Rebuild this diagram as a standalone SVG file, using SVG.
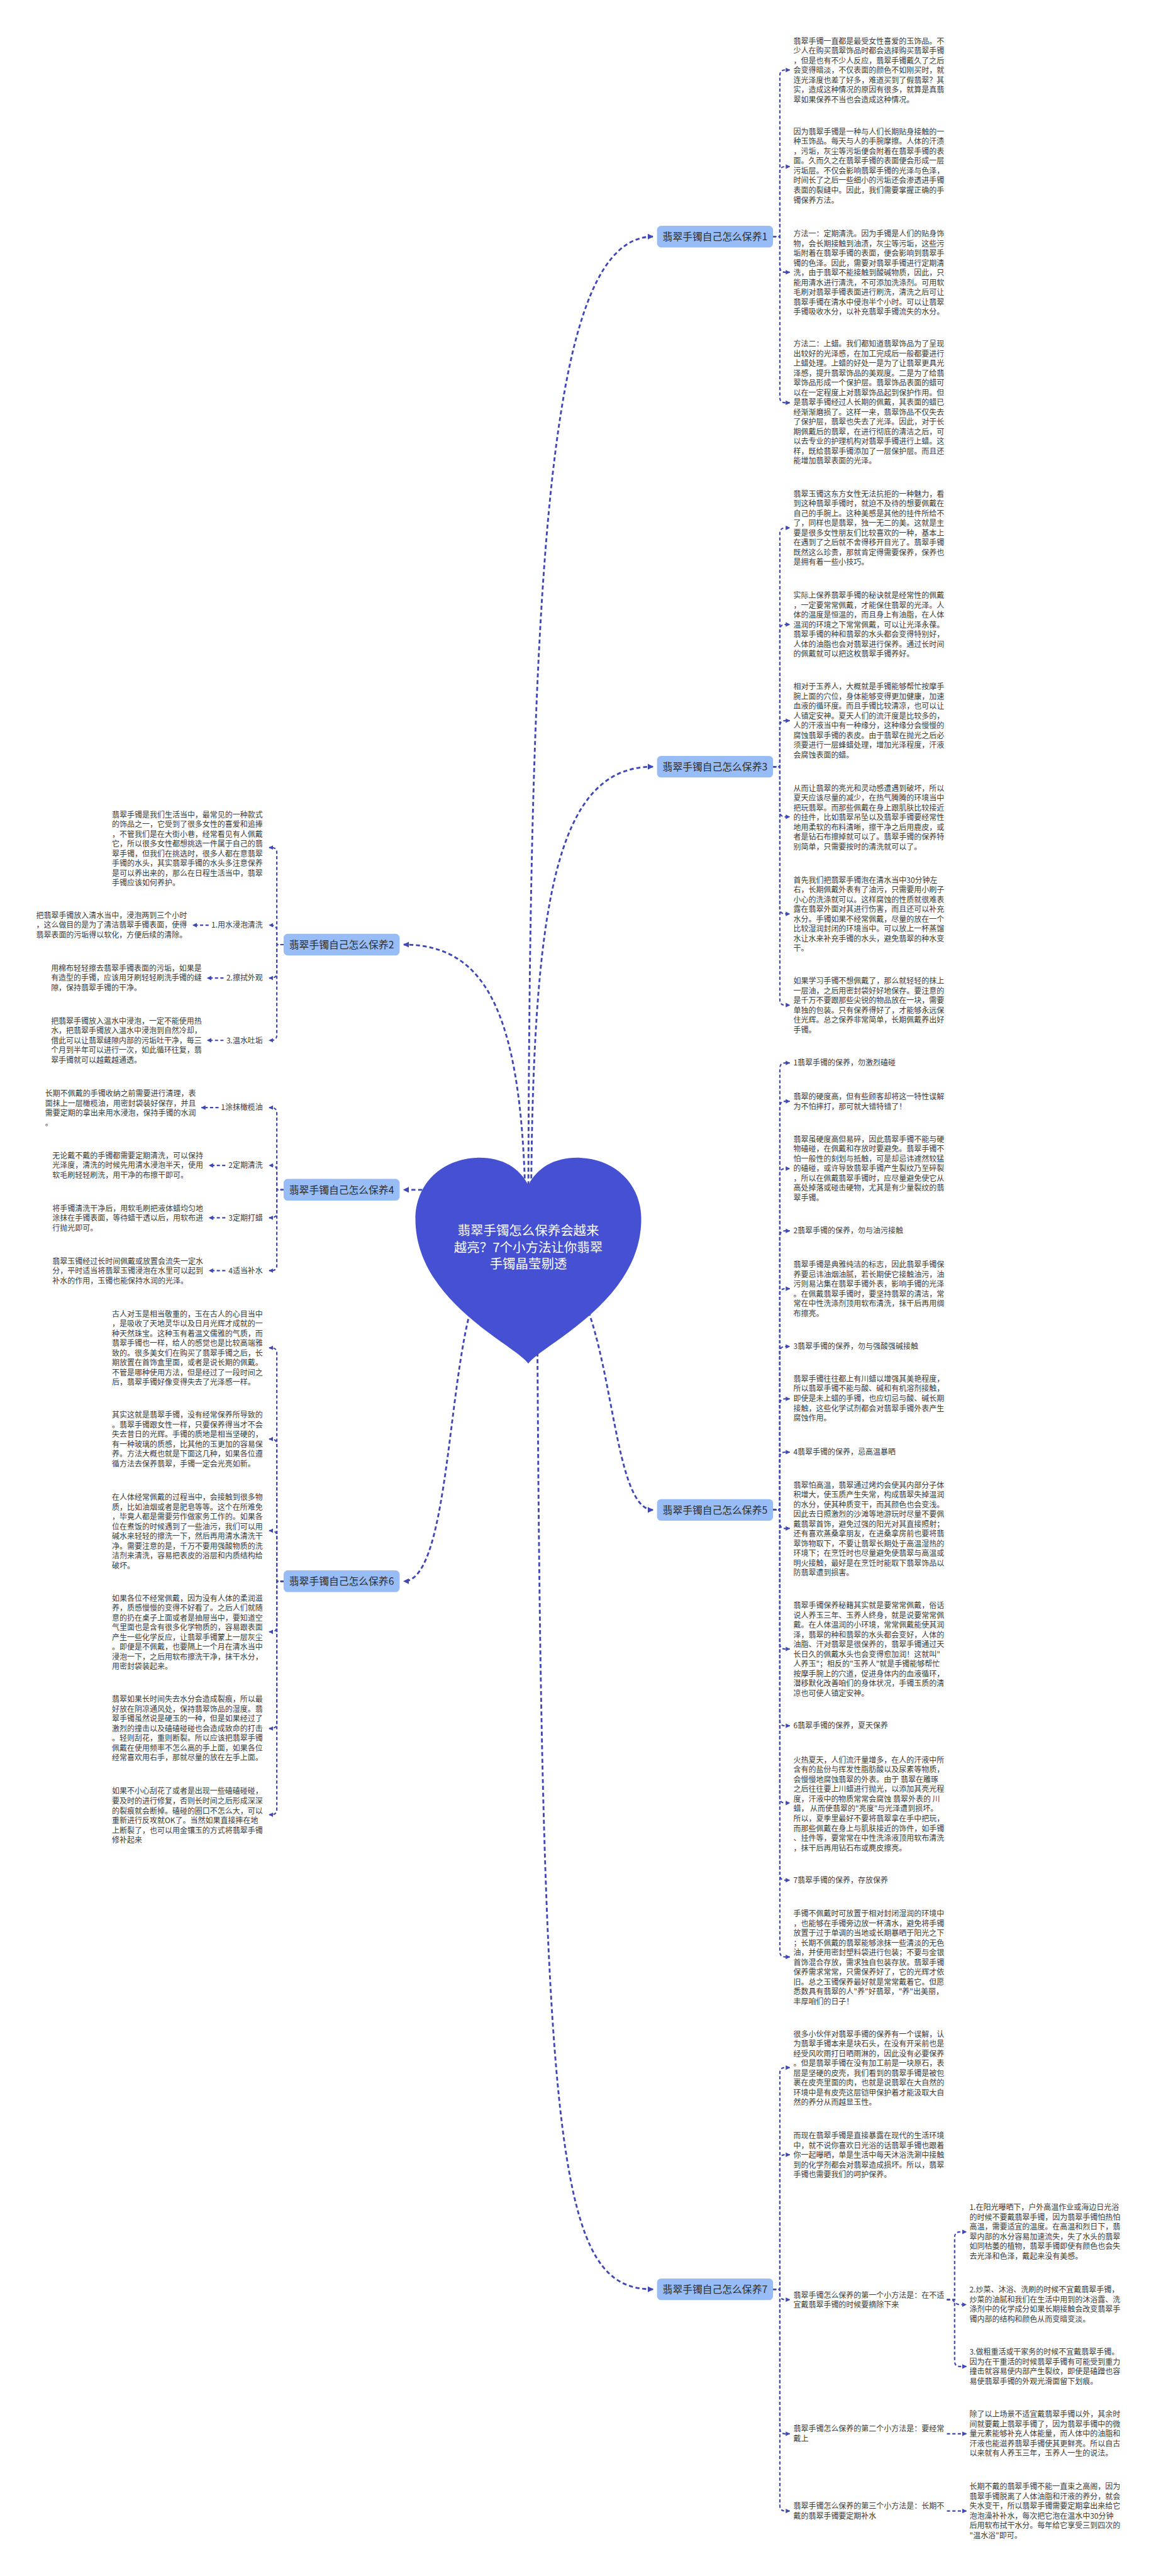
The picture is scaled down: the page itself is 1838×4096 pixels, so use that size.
<svg xmlns="http://www.w3.org/2000/svg" width="1838" height="4096" viewBox="0 0 1838 4096">
<style>
.t{font-family:"Noto Sans CJK SC","Noto Sans",sans-serif;font-size:16.7px;fill:#3a3a3a}
.lb{font-family:"Noto Sans CJK SC","Noto Sans",sans-serif;font-size:16.7px;fill:#3a3a3a;text-anchor:end}
.bx{fill:#98bcf6}
.bt{font-family:"Noto Sans CJK SC","Noto Sans",sans-serif;font-size:22px;fill:#2e2e2e;text-anchor:middle}
.ht{font-family:"Noto Sans CJK SC","Noto Sans",sans-serif;font-size:28.5px;fill:#ffffff;text-anchor:middle}
.c{fill:none;stroke:#3f48b8;stroke-width:3;stroke-dasharray:7 5;marker-end:url(#a)}
.m{fill:none;stroke:#3f48b8;stroke-width:4;stroke-dasharray:9 6;marker-end:url(#am)}
</style>
<defs>
<marker id="a" markerUnits="userSpaceOnUse" markerWidth="10" markerHeight="11" viewBox="0 0 10 10" refX="9" refY="5" orient="auto"><path d="M0,0 L10,5 L0,10 z" fill="#3f48b8"/></marker>
<marker id="am" markerUnits="userSpaceOnUse" markerWidth="13" markerHeight="13" viewBox="0 0 10 10" refX="9" refY="5" orient="auto"><path d="M0,0 L10,5 L0,10 z" fill="#3f48b8"/></marker>
</defs>
<rect width="1838" height="4096" fill="#ffffff"/>
<g transform="scale(0.71797)">
<g id="connectors">
<!-- root to branches -->
<path class="m" d="M1170,2700 C1172,1200 1220,524 1446,524"/>
<path class="m" d="M1176,2700 C1178,2000 1230,1698 1446,1698"/>
<path class="m" d="M1164,2700 C1160,2250 1080,2092 894,2092"/>
<path class="m" d="M1100,2635 L894,2635"/>
<path class="m" d="M1060,2850 C990,3000 1000,3502 894,3502"/>
<path class="m" d="M1280,2850 C1360,3000 1360,3344 1446,3344"/>
<path class="m" d="M1190,2950 C1200,4800 1240,5070 1446,5070"/>
<!-- section 1 -->
<path class="c" d="M1712,524 H1727 V167 Q1727,155 1739,155 L1749,155"/>
<path class="c" d="M1712,524 H1727 V381 Q1727,369 1739,369 L1749,369"/>
<path class="c" d="M1712,524 H1727 V591 Q1727,603 1739,603 L1749,603"/>
<path class="c" d="M1712,524 H1727 V880 Q1727,892 1739,892 L1749,892"/>
<!-- section 3 -->
<path class="c" d="M1712,1698 H1727 V1181 Q1727,1169 1739,1169 L1749,1169"/>
<path class="c" d="M1712,1698 H1727 V1395 Q1727,1383 1739,1383 L1749,1383"/>
<path class="c" d="M1712,1698 H1727 V1608 Q1727,1596 1739,1596 L1749,1596"/>
<path class="c" d="M1712,1698 H1727 V1797 Q1727,1809 1739,1809 L1749,1809"/>
<path class="c" d="M1712,1698 H1727 V2012 Q1727,2024 1739,2024 L1749,2024"/>
<path class="c" d="M1712,1698 H1727 V2214 Q1727,2226 1739,2226 L1749,2226"/>
<!-- section 5 -->
<path class="c" d="M1712,3344 H1727 V2366 Q1727,2354 1739,2354 L1749,2354"/>
<path class="c" d="M1712,3344 H1727 V2451 Q1727,2439 1739,2439 L1749,2439"/>
<path class="c" d="M1712,3344 H1727 V2600 Q1727,2588 1739,2588 L1749,2588"/>
<path class="c" d="M1712,3344 H1727 V2738 Q1727,2726 1739,2726 L1749,2726"/>
<path class="c" d="M1712,3344 H1727 V2866 Q1727,2854 1739,2854 L1749,2854"/>
<path class="c" d="M1712,3344 H1727 V2994 Q1727,2982 1739,2982 L1749,2982"/>
<path class="c" d="M1712,3344 H1727 V3110 Q1727,3098 1739,3098 L1749,3098"/>
<path class="c" d="M1712,3344 H1727 V3228 Q1727,3216 1739,3216 L1749,3216"/>
<path class="c" d="M1712,3344 H1727 V3373 Q1727,3385 1739,3385 L1749,3385"/>
<path class="c" d="M1712,3344 H1727 V3640 Q1727,3652 1739,3652 L1749,3652"/>
<path class="c" d="M1712,3344 H1727 V3810 Q1727,3822 1739,3822 L1749,3822"/>
<path class="c" d="M1712,3344 H1727 V3981 Q1727,3993 1739,3993 L1749,3993"/>
<path class="c" d="M1712,3344 H1727 V4152 Q1727,4164 1739,4164 L1749,4164"/>
<path class="c" d="M1712,3344 H1727 V4322 Q1727,4334 1739,4334 L1749,4334"/>
<!-- section 7 -->
<path class="c" d="M1712,5070 H1727 V4591 Q1727,4579 1739,4579 L1749,4579"/>
<path class="c" d="M1712,5070 H1727 V4784 Q1727,4772 1739,4772 L1749,4772"/>
<path class="c" d="M1712,5070 H1727 V5081 Q1727,5093 1739,5093 L1749,5093"/>
<path class="c" d="M1712,5070 H1727 V5378 Q1727,5390 1739,5390 L1749,5390"/>
<path class="c" d="M1712,5070 H1727 V5549 Q1727,5561 1739,5561 L1749,5561"/>
<path class="c" d="M2097,5093 H2114 V4955 Q2114,4943 2126,4943 L2140,4943"/>
<path class="c" d="M2097,5093 H2110 Q2116,5104 2126,5104 L2140,5104"/>
<path class="c" d="M2097,5093 H2114 V5229 Q2114,5241 2126,5241 L2140,5241"/>
<path class="c" d="M2097,5390 L2140,5390"/>
<path class="c" d="M2097,5561 L2140,5561"/>
<!-- section 2 -->
<path class="c" d="M628,2092 H613 V1889 Q613,1877 601,1877 L596,1877"/>
<path class="c" d="M628,2092 H613 V2061 Q613,2049 601,2049 L596,2049"/>
<path class="c" d="M628,2092 H613 V2154 Q613,2166 601,2166 L596,2166"/>
<path class="c" d="M628,2092 H613 V2292 Q613,2304 601,2304 L596,2304"/>
<path class="c" d="M462,2049 L427,2049"/>
<path class="c" d="M495,2166 L459,2166"/>
<path class="c" d="M495,2304 L459,2304"/>
<!-- section 4 -->
<path class="c" d="M628,2635 H613 V2465 Q613,2453 601,2453 L596,2453"/>
<path class="c" d="M628,2635 H613 V2593 Q613,2581 601,2581 L596,2581"/>
<path class="c" d="M628,2635 H613 V2685 Q613,2697 601,2697 L596,2697"/>
<path class="c" d="M628,2635 H613 V2802 Q613,2814 601,2814 L596,2814"/>
<path class="c" d="M484,2453 L446,2453"/>
<path class="c" d="M499,2581 L463,2581"/>
<path class="c" d="M499,2697 L463,2697"/>
<path class="c" d="M499,2814 L463,2814"/>
<!-- section 6 -->
<path class="c" d="M628,3502 H613 V2997 Q613,2985 601,2985 L596,2985"/>
<path class="c" d="M628,3502 H613 V3199 Q613,3187 601,3187 L596,3187"/>
<path class="c" d="M628,3502 H613 V3402 Q613,3390 601,3390 L596,3390"/>
<path class="c" d="M628,3502 H613 V3602 Q613,3614 601,3614 L596,3614"/>
<path class="c" d="M628,3502 H613 V3816 Q613,3828 601,3828 L596,3828"/>
<path class="c" d="M628,3502 H613 V4007 Q613,4019 601,4019 L596,4019"/>
</g>

<g id="root">
<path d="M1170,2625 C1150,2585 1110,2562 1055,2564 C980,2567 920,2620 920,2700 C920,2810 1000,2890 1080,2950 C1120,2980 1160,3005 1170,3020 C1180,3005 1220,2980 1260,2950 C1340,2890 1420,2810 1420,2700 C1420,2620 1360,2567 1285,2564 C1230,2562 1190,2585 1170,2625 Z" fill="#4650d2"/>
<text class="ht" x="1170" y="2735">翡翠手镯怎么保养会越来<tspan x="1170" dy="37.5">越亮？7个小方法让你翡翠</tspan><tspan x="1170" dy="37.5">手镯晶莹剔透</tspan></text>
</g>

<g id="branch1"><rect class="bx" x="1455" y="500" width="257" height="48" rx="9"/><text class="bt" x="1583.5" y="532">翡翠手镯自己怎么保养1</text></g>
<g id="branch3"><rect class="bx" x="1455" y="1674" width="257" height="48" rx="9"/><text class="bt" x="1583.5" y="1706">翡翠手镯自己怎么保养3</text></g>
<g id="branch5"><rect class="bx" x="1455" y="3320" width="257" height="48" rx="9"/><text class="bt" x="1583.5" y="3352">翡翠手镯自己怎么保养5</text></g>
<g id="branch7"><rect class="bx" x="1455" y="5046" width="257" height="48" rx="9"/><text class="bt" x="1583.5" y="5078">翡翠手镯自己怎么保养7</text></g>
<g id="branch2"><rect class="bx" x="628" y="2068" width="257" height="48" rx="9"/><text class="bt" x="756.5" y="2100">翡翠手镯自己怎么保养2</text></g>
<g id="branch4"><rect class="bx" x="628" y="2611" width="257" height="48" rx="9"/><text class="bt" x="756.5" y="2643">翡翠手镯自己怎么保养4</text></g>
<g id="branch6"><rect class="bx" x="628" y="3478" width="257" height="48" rx="9"/><text class="bt" x="756.5" y="3510">翡翠手镯自己怎么保养6</text></g>

<g id="s1-texts">
<text class="t" x="1757" y="97">翡翠手镯一直都是最受女性喜爱的玉饰品。不<tspan x="1757" dy="21.6">少人在购买翡翠饰品时都会选择购买翡翠手镯</tspan><tspan x="1757" dy="21.6">，但是也有不少人反应，翡翠手镯戴久了之后</tspan><tspan x="1757" dy="21.6">会变得暗淡，不仅表面的颜色不如刚买时，就</tspan><tspan x="1757" dy="21.6">连光泽度也差了好多，难道买到了假翡翠？其</tspan><tspan x="1757" dy="21.6">实，造成这种情况的原因有很多，就算是真翡</tspan><tspan x="1757" dy="21.6">翠如果保养不当也会造成这种情况。</tspan></text>
<text class="t" x="1757" y="298">因为翡翠手镯是一种与人们长期贴身接触的一<tspan x="1757" dy="21.6">种玉饰品。每天与人的手腕摩擦。人体的汗渍</tspan><tspan x="1757" dy="21.6">，污垢，灰尘等污垢便会附着在翡翠手镯的表</tspan><tspan x="1757" dy="21.6">面。久而久之在翡翠手镯的表面便会形成一层</tspan><tspan x="1757" dy="21.6">污垢层。不仅会影响翡翠手镯的光泽与色泽，</tspan><tspan x="1757" dy="21.6">时间长了之后一些细小的污垢还会渗透进手镯</tspan><tspan x="1757" dy="21.6">表面的裂缝中。因此，我们需要掌握正确的手</tspan><tspan x="1757" dy="21.6">镯保养方法。</tspan></text>
<text class="t" x="1757" y="524">方法一：定期清洗。因为手镯是人们的贴身饰<tspan x="1757" dy="21.6">物，会长期接触到油渍，灰尘等污垢，这些污</tspan><tspan x="1757" dy="21.6">垢附着在翡翠手镯的表面，便会影响到翡翠手</tspan><tspan x="1757" dy="21.6">镯的色泽。因此，需要对翡翠手镯进行定期清</tspan><tspan x="1757" dy="21.6">洗，由于翡翠不能接触到酸碱物质，因此，只</tspan><tspan x="1757" dy="21.6">能用清水进行清洗，不可添加洗涤剂。可用软</tspan><tspan x="1757" dy="21.6">毛刷对翡翠手镯表面进行刷洗，清洗之后可让</tspan><tspan x="1757" dy="21.6">翡翠手镯在清水中侵泡半个小时。可以让翡翠</tspan><tspan x="1757" dy="21.6">手镯吸收水分，以补充翡翠手镯流失的水分。</tspan></text>
<text class="t" x="1757" y="768">方法二：上蜡。我们都知道翡翠饰品为了呈现<tspan x="1757" dy="21.6">出较好的光泽感，在加工完成后一般都要进行</tspan><tspan x="1757" dy="21.6">上蜡处理。上蜡的好处一是为了让翡翠更具光</tspan><tspan x="1757" dy="21.6">泽感，提升翡翠饰品的美观度。二是为了给翡</tspan><tspan x="1757" dy="21.6">翠饰品形成一个保护层。翡翠饰品表面的蜡可</tspan><tspan x="1757" dy="21.6">以在一定程度上对翡翠饰品起到保护作用。但</tspan><tspan x="1757" dy="21.6">是翡翠手镯经过人长期的佩戴，其表面的蜡已</tspan><tspan x="1757" dy="21.6">经渐渐磨损了。这样一来，翡翠饰品不仅失去</tspan><tspan x="1757" dy="21.6">了保护层，翡翠也失去了光泽。因此，对于长</tspan><tspan x="1757" dy="21.6">期佩戴后的翡翠，在进行彻底的清洁之后，可</tspan><tspan x="1757" dy="21.6">以去专业的护理机构对翡翠手镯进行上蜡。这</tspan><tspan x="1757" dy="21.6">样，既给翡翠手镯添加了一层保护层。而且还</tspan><tspan x="1757" dy="21.6">能增加翡翠表面的光泽。</tspan></text>
</g>

<g id="s3-texts">
<text class="t" x="1757" y="1100">翡翠玉镯这东方女性无法抗拒的一种魅力，看<tspan x="1757" dy="21.6">到这种翡翠手镯时，就迫不及待的想要佩戴在</tspan><tspan x="1757" dy="21.6">自己的手腕上。这种美感是其他的挂件所给不</tspan><tspan x="1757" dy="21.6">了，同样也是翡翠，独一无二的美。这就是主</tspan><tspan x="1757" dy="21.6">要是很多女性朋友们比较喜欢的一种，基本上</tspan><tspan x="1757" dy="21.6">在遇到了之后就不舍得移开目光了。翡翠手镯</tspan><tspan x="1757" dy="21.6">既然这么珍贵，那就肯定得需要保养，保养也</tspan><tspan x="1757" dy="21.6">是拥有着一些小技巧。</tspan></text>
<text class="t" x="1757" y="1325">实际上保养翡翠手镯的秘诀就是经常性的佩戴<tspan x="1757" dy="21.6">，一定要常常佩戴，才能保住翡翠的光泽。人</tspan><tspan x="1757" dy="21.6">体的温度是恒温的，而且身上有油脂，在人体</tspan><tspan x="1757" dy="21.6">温润的环境之下常常佩戴，可以让光泽永葆。</tspan><tspan x="1757" dy="21.6">翡翠手镯的种和翡翠的水头都会变得特别好，</tspan><tspan x="1757" dy="21.6">人体的油脂也会对翡翠进行保养。通过长时间</tspan><tspan x="1757" dy="21.6">的佩戴就可以把这枚翡翠手镯养好。</tspan></text>
<text class="t" x="1757" y="1527">相对于玉养人，大概就是手镯能够帮忙按摩手<tspan x="1757" dy="21.6">腕上面的穴位，身体能够变得更加健康，加速</tspan><tspan x="1757" dy="21.6">血液的循环度。而且手镯比较清凉，也可以让</tspan><tspan x="1757" dy="21.6">人镇定安神。夏天人们的流汗度是比较多的，</tspan><tspan x="1757" dy="21.6">人的汗液当中有一种缘分，这种缘分会慢慢的</tspan><tspan x="1757" dy="21.6">腐蚀翡翠手镯的表皮。由于翡翠在抛光之后必</tspan><tspan x="1757" dy="21.6">须要进行一层蜂蜡处理，增加光泽程度，汗液</tspan><tspan x="1757" dy="21.6">会腐蚀表面的蜡。</tspan></text>
<text class="t" x="1757" y="1752">从而让翡翠的亮光和灵动感遭遇到破坏，所以<tspan x="1757" dy="21.6">夏天应该尽量的减少，在热气腾腾的环境当中</tspan><tspan x="1757" dy="21.6">把玩翡翠。而那些佩戴在身上跟肌肤比较接近</tspan><tspan x="1757" dy="21.6">的挂件，比如翡翠吊坠以及翡翠手镯要经常性</tspan><tspan x="1757" dy="21.6">地用柔软的布料清晰，擦干净之后用鹿皮，或</tspan><tspan x="1757" dy="21.6">者是钻石布擦掉就可以了。翡翠手镯的保养特</tspan><tspan x="1757" dy="21.6">别简单，只需要按时的清洗就可以了。</tspan></text>
<text class="t" x="1757" y="1955">首先我们把翡翠手镯泡在清水当中30分钟左<tspan x="1757" dy="21.6">右，长期佩戴外表有了油污，只需要用小刷子</tspan><tspan x="1757" dy="21.6">小心的洗涤就可以。这样腐蚀的性质就很难表</tspan><tspan x="1757" dy="21.6">露在翡翠外面对其进行伤害，而且还可以补充</tspan><tspan x="1757" dy="21.6">水分。手镯如果不经常佩戴，尽量的放在一个</tspan><tspan x="1757" dy="21.6">比较湿润封闭的环境当中。可以放上一杯蒸馏</tspan><tspan x="1757" dy="21.6">水让水来补充手镯的水头，避免翡翠的种水变</tspan><tspan x="1757" dy="21.6">干。</tspan></text>
<text class="t" x="1757" y="2179">如果学习手镯不想佩戴了，那么就轻轻的抹上<tspan x="1757" dy="21.6">一层油，之后用密封袋好好地保存。要注意的</tspan><tspan x="1757" dy="21.6">是千万不要跟那些尖锐的物品放在一块，需要</tspan><tspan x="1757" dy="21.6">单独的包装。只有保养得好了，才能够永远保</tspan><tspan x="1757" dy="21.6">住光辉。总之保养非常简单，长期佩戴养出好</tspan><tspan x="1757" dy="21.6">手镯。</tspan></text>
</g>

<g id="s5-texts">
<text class="t" x="1757" y="2360">1翡翠手镯的保养，勿激烈磕碰</text>
<text class="t" x="1757" y="2435">翡翠的硬度高，但有些顾客却将这一特性误解<tspan x="1757" dy="21.6">为不怕摔打，那可就大错特错了！</tspan></text>
<text class="t" x="1757" y="2529">翡翠虽硬度高但易碎，因此翡翠手镯不能与硬<tspan x="1757" dy="21.6">物磕碰，在佩戴和存放时要避免。翡翠手镯不</tspan><tspan x="1757" dy="21.6">怕一般性的刻划与抵触，可是却忌讳遽然较猛</tspan><tspan x="1757" dy="21.6">的磕碰，或许导致翡翠手镯产生裂纹乃至碎裂</tspan><tspan x="1757" dy="21.6">，所以在佩戴翡翠手镯时，应尽量避免使它从</tspan><tspan x="1757" dy="21.6">高处掉落或碰击硬物，尤其是有少量裂纹的翡</tspan><tspan x="1757" dy="21.6">翠手镯。</tspan></text>
<text class="t" x="1757" y="2732">2翡翠手镯的保养，勿与油污接触</text>
<text class="t" x="1757" y="2807">翡翠手镯是典雅纯洁的标志，因此翡翠手镯保<tspan x="1757" dy="21.6">养要忌讳油烟油腻，若长期使它接触油污，油</tspan><tspan x="1757" dy="21.6">污则易沾集在翡翠手镯外表，影响手镯的光泽</tspan><tspan x="1757" dy="21.6">。在佩戴翡翠手镯时，要坚持翡翠的清洁，常</tspan><tspan x="1757" dy="21.6">常在中性洗涤剂顶用软布清洗，抹干后再用绸</tspan><tspan x="1757" dy="21.6">布擦亮。</tspan></text>
<text class="t" x="1757" y="2988">3翡翠手镯的保养，勿与强酸强碱接触</text>
<text class="t" x="1757" y="3060">翡翠手镯往往都上有川蜡以增强其美艳程度，<tspan x="1757" dy="21.6">所以翡翠手镯不能与酸、碱和有机溶剂接触，</tspan><tspan x="1757" dy="21.6">即使是未上蜡的手镯，也应切忌与酸、碱长期</tspan><tspan x="1757" dy="21.6">接触，这些化学试剂都会对翡翠手镯外表产生</tspan><tspan x="1757" dy="21.6">腐蚀作用。</tspan></text>
<text class="t" x="1757" y="3222">4翡翠手镯的保养，忌高温暴晒</text>
<text class="t" x="1757" y="3295">翡翠怕高温，翡翠通过烤灼会使其内部分子体<tspan x="1757" dy="21.6">积增大，使玉质产生失常，构成翡翠失掉温润</tspan><tspan x="1757" dy="21.6">的水分，使其种质变干，而其颜色也会变浅。</tspan><tspan x="1757" dy="21.6">因此去日照激烈的沙滩等地游玩时尽量不要佩</tspan><tspan x="1757" dy="21.6">戴翡翠首饰，避免过强的阳光对其直接照射；</tspan><tspan x="1757" dy="21.6">还有喜欢蒸桑拿朋友，在进桑拿房前也要将翡</tspan><tspan x="1757" dy="21.6">翠饰物取下，不要让翡翠长期处于高温湿热的</tspan><tspan x="1757" dy="21.6">环境下；在烹饪时也尽量避免使翡翠与高温或</tspan><tspan x="1757" dy="21.6">明火接触，最好是在烹饪时能取下翡翠饰品以</tspan><tspan x="1757" dy="21.6">防翡翠遭到损害。</tspan></text>
<text class="t" x="1757" y="3562">翡翠手镯保养秘籍其实就是要常常佩戴，俗话<tspan x="1757" dy="21.6">说人养玉三年、玉养人终身，就是说要常常佩</tspan><tspan x="1757" dy="21.6">戴。在人体温润的小环境，常常佩戴能使其润</tspan><tspan x="1757" dy="21.6">泽，翡翠的种和翡翠的水头都会变好，人体的</tspan><tspan x="1757" dy="21.6">油脂、汗对翡翠是很保养的，翡翠手镯通过天</tspan><tspan x="1757" dy="21.6">长日久的佩戴水头也会变得愈加润！这就叫"</tspan><tspan x="1757" dy="21.6">人养玉"；相反的"玉养人"就是手镯能够帮忙</tspan><tspan x="1757" dy="21.6">按摩手腕上的穴道，促进身体内的血液循环，</tspan><tspan x="1757" dy="21.6">潜移默化改善咱们的身体状况，手镯玉质的清</tspan><tspan x="1757" dy="21.6">凉也可使人镇定安神。</tspan></text>
<text class="t" x="1757" y="3828">6翡翠手镯的保养，夏天保养</text>
<text class="t" x="1757" y="3904">火热夏天，人们流汗量增多，在人的汗液中所<tspan x="1757" dy="21.6">含有的盐份与挥发性脂肪酸以及尿素等物质，</tspan><tspan x="1757" dy="21.6">会慢慢地腐蚀翡翠的外表。由于 翡翠在雕琢</tspan><tspan x="1757" dy="21.6">之后往往要上川蜡进行抛光，以添加其亮光程</tspan><tspan x="1757" dy="21.6">度，汗液中的物质常常会腐蚀 翡翠外表的 川</tspan><tspan x="1757" dy="21.6">蜡， 从而使翡翠的"亮度"与光泽遭到损坏。</tspan><tspan x="1757" dy="21.6">所以，夏季里最好不要将翡翠拿在手中把玩，</tspan><tspan x="1757" dy="21.6">而那些佩戴在身上与肌肤接近的饰件，如手镯</tspan><tspan x="1757" dy="21.6">、挂件等，要常常在中性洗涤液顶用软布清洗</tspan><tspan x="1757" dy="21.6">，抹干后再用钻石布或麂皮擦亮。</tspan></text>
<text class="t" x="1757" y="4170">7翡翠手镯的保养，存放保养</text>
<text class="t" x="1757" y="4244">手镯不佩戴时可放置于相对封闭湿润的环境中<tspan x="1757" dy="21.6">，也能够在手镯旁边放一杯清水，避免将手镯</tspan><tspan x="1757" dy="21.6">放置于过于单调的当地或长期暴晒于阳光之下</tspan><tspan x="1757" dy="21.6">；长期不佩戴的翡翠能够涂抹一些清淡的无色</tspan><tspan x="1757" dy="21.6">油，并使用密封塑料袋进行包装；不要与金银</tspan><tspan x="1757" dy="21.6">首饰混合存放，需求独自包装存放。翡翠手镯</tspan><tspan x="1757" dy="21.6">保养需求常常，只需保养好了，它的光辉才依</tspan><tspan x="1757" dy="21.6">旧。总之玉镯保养最好就是常常戴着它。但愿</tspan><tspan x="1757" dy="21.6">悉数具有翡翠的人"养"好翡翠，"养"出美丽，</tspan><tspan x="1757" dy="21.6">丰厚咱们的日子！</tspan></text>
</g>

<g id="s7-texts">
<text class="t" x="1757" y="4511">很多小伙伴对翡翠手镯的保养有一个误解，认<tspan x="1757" dy="21.6">为翡翠手镯本来是块石头，在没有开采前也是</tspan><tspan x="1757" dy="21.6">经受风吹雨打日晒雨淋的，因此没有必要保养</tspan><tspan x="1757" dy="21.6">。但是翡翠手镯在没有加工前是一块原石，表</tspan><tspan x="1757" dy="21.6">层是坚硬的皮壳，我们看到的翡翠手镯是被包</tspan><tspan x="1757" dy="21.6">裹在皮壳里面的肉，也就是说翡翠在大自然的</tspan><tspan x="1757" dy="21.6">环境中是有皮壳这层铠甲保护着才能汲取大自</tspan><tspan x="1757" dy="21.6">然的养分从而越显玉性。</tspan></text>
<text class="t" x="1757" y="4736">而现在翡翠手镯是直接暴露在现代的生活环境<tspan x="1757" dy="21.6">中，就不说你喜欢日光浴的话翡翠手镯也跟着</tspan><tspan x="1757" dy="21.6">你一起曝晒，单是生活中每天沐浴洗涮中接触</tspan><tspan x="1757" dy="21.6">到的化学剂都会对翡翠造成损坏。所以，翡翠</tspan><tspan x="1757" dy="21.6">手镯也需要我们的呵护保养。</tspan></text>
<text class="t" x="1757" y="5089">翡翠手镯怎么保养的第一个小方法是：在不适<tspan x="1757" dy="21.6">宜戴翡翠手镯的时候要摘除下来</tspan></text>
<text class="t" x="1757" y="5385">翡翠手镯怎么保养的第二个小方法是：要经常<tspan x="1757" dy="21.6">戴上</tspan></text>
<text class="t" x="1757" y="5556">翡翠手镯怎么保养的第三个小方法是：长期不<tspan x="1757" dy="21.6">戴的翡翠手镯要定期补水</tspan></text>
<text class="t" x="2147" y="4895">1.在阳光曝晒下，户外高温作业或海边日光浴<tspan x="2147" dy="21.6">的时候不要戴翡翠手镯，因为翡翠手镯怕热怕</tspan><tspan x="2147" dy="21.6">高温，需要适宜的温度。在高温和烈日下，翡</tspan><tspan x="2147" dy="21.6">翠内部的水分容易加速流失，失了水头的翡翠</tspan><tspan x="2147" dy="21.6">如同枯萎的植物，翡翠手镯即使有颜色也会失</tspan><tspan x="2147" dy="21.6">去光泽和色泽，戴起来没有美感。</tspan></text>
<text class="t" x="2147" y="5077">2.炒菜、沐浴、洗刷的时候不宜戴翡翠手镯，<tspan x="2147" dy="21.6">炒菜的油腻和我们在生活中用到的沐浴露、洗</tspan><tspan x="2147" dy="21.6">涤剂中的化学成分如果长期接触会改变翡翠手</tspan><tspan x="2147" dy="21.6">镯内部的结构和颜色从而变暗变淡。</tspan></text>
<text class="t" x="2147" y="5215">3.做粗重活或干家务的时候不宜戴翡翠手镯。<tspan x="2147" dy="21.6">因为在干重活的时候翡翠手镯有可能受到重力</tspan><tspan x="2147" dy="21.6">撞击就容易使内部产生裂纹，即使是磕蹭也容</tspan><tspan x="2147" dy="21.6">易使翡翠手镯的外观光滑面留下划痕。</tspan></text>
<text class="t" x="2147" y="5353">除了以上场景不适宜戴翡翠手镯以外，其余时<tspan x="2147" dy="21.6">间就要戴上翡翠手镯了，因为翡翠手镯中的微</tspan><tspan x="2147" dy="21.6">量元素能够补充人体能量，而人体中的油脂和</tspan><tspan x="2147" dy="21.6">汗液也能滋养翡翠手镯使其更鲜亮。所以自古</tspan><tspan x="2147" dy="21.6">以来就有人养玉三年，玉养人一生的说法。</tspan></text>
<text class="t" x="2147" y="5513">长期不戴的翡翠手镯不能一直束之高阁，因为<tspan x="2147" dy="21.6">翡翠手镯脱离了人体油脂和汗液的养分，就会</tspan><tspan x="2147" dy="21.6">失水变干，所以翡翠手镯需要定期拿出来给它</tspan><tspan x="2147" dy="21.6">泡泡澡补补水，每次把它泡在温水中30分钟</tspan><tspan x="2147" dy="21.6">后用软布拭干水分。每年给它享受三到四次的</tspan><tspan x="2147" dy="21.6">"温水浴"即可。</tspan></text>
</g>

<g id="s2-texts">
<text class="t" x="248" y="1810">翡翠手镯是我们生活当中，最常见的一种款式<tspan x="248" dy="21.6">的饰品之一，它受到了很多女性的喜爱和追捧</tspan><tspan x="248" dy="21.6">，不管我们是在大街小巷，经常看见有人佩戴</tspan><tspan x="248" dy="21.6">它，所以很多女性都想挑选一件属于自己的翡</tspan><tspan x="248" dy="21.6">翠手镯，但我们在挑选时，很多人都在意翡翠</tspan><tspan x="248" dy="21.6">手镯的水头，其实翡翠手镯的水头多注意保养</tspan><tspan x="248" dy="21.6">是可以养出来的，那么在日程生活当中，翡翠</tspan><tspan x="248" dy="21.6">手镯应该如何养护。</tspan></text>
<text class="lb" x="582" y="2055">1.用水浸泡清洗</text>
<text class="t" x="80" y="2033">把翡翠手镯放入清水当中，浸泡两到三个小时<tspan x="80" dy="21.6">，这么做目的是为了清洁翡翠手镯表面，使得</tspan><tspan x="80" dy="21.6">翡翠表面的污垢得以软化，方便后续的清除。</tspan></text>
<text class="lb" x="582" y="2172">2.擦拭外观</text>
<text class="t" x="113" y="2150">用棉布轻轻擦去翡翠手镯表面的污垢，如果是<tspan x="113" dy="21.6">有造型的手镯，应该用牙刷轻轻刷洗手镯的缝</tspan><tspan x="113" dy="21.6">隙，保持翡翠手镯的干净。</tspan></text>
<text class="lb" x="582" y="2310">3.温水吐垢</text>
<text class="t" x="113" y="2267">把翡翠手镯放入温水中浸泡，一定不能使用热<tspan x="113" dy="21.6">水，把翡翠手镯放入温水中浸泡到自然冷却，</tspan><tspan x="113" dy="21.6">借此可以让翡翠缝隙内部的污垢吐干净，每三</tspan><tspan x="113" dy="21.6">个月到半年可以进行一次，如此循环往复，翡</tspan><tspan x="113" dy="21.6">翠手镯就可以越戴越通透。</tspan></text>
</g>

<g id="s4-texts">
<text class="lb" x="582" y="2459">1涂抹橄榄油</text>
<text class="t" x="100" y="2428">长期不佩戴的手镯收纳之前需要进行清理，表<tspan x="100" dy="21.6">面抹上一层橄榄油，用密封袋装好保存，并且</tspan><tspan x="100" dy="21.6">需要定期的拿出来用水浸泡，保持手镯的水润</tspan><tspan x="100" dy="21.6">。</tspan></text>
<text class="lb" x="582" y="2587">2定期清洗</text>
<text class="t" x="116" y="2565">无论戴不戴的手镯都需要定期清洗，可以保持<tspan x="116" dy="21.6">光泽度，清洗的时候先用清水浸泡半天，使用</tspan><tspan x="116" dy="21.6">软毛刷轻轻刷洗，用干净的布擦干即可。</tspan></text>
<text class="lb" x="582" y="2703">3定期打蜡</text>
<text class="t" x="116" y="2682">将手镯清洗干净后，用软毛刷把液体蜡均匀地<tspan x="116" dy="21.6">涂抹在手镯表面，等待蜡干透以后，用软布进</tspan><tspan x="116" dy="21.6">行抛光即可。</tspan></text>
<text class="lb" x="582" y="2820">4适当补水</text>
<text class="t" x="116" y="2799">翡翠玉镯经过长时间佩戴或放置会流失一定水<tspan x="116" dy="21.6">分，平时适当将翡翠玉镯浸泡在水里可以起到</tspan><tspan x="116" dy="21.6">补水的作用，玉镯也能保持水润的光泽。</tspan></text>
</g>

<g id="s6-texts">
<text class="t" x="248" y="2916">古人对玉是相当敬重的，玉在古人的心目当中<tspan x="248" dy="21.6">，是吸收了天地灵华以及日月光辉才成就的一</tspan><tspan x="248" dy="21.6">种天然珠宝。这种玉有着温文儒雅的气质，而</tspan><tspan x="248" dy="21.6">翡翠手镯也一样，给人的感觉也是比较高端雅</tspan><tspan x="248" dy="21.6">致的。很多美女们在购买了翡翠手镯之后，长</tspan><tspan x="248" dy="21.6">期放置在首饰盒里面，或者是说长期的佩戴。</tspan><tspan x="248" dy="21.6">不管是哪种使用方法，但是经过了一段时间之</tspan><tspan x="248" dy="21.6">后，翡翠手镯好像变得失去了光泽感一样。</tspan></text>
<text class="t" x="248" y="3140">其实这就是翡翠手镯，没有经常保养所导致的<tspan x="248" dy="21.6">。翡翠手镯跟女性一样，只要保养得当才不会</tspan><tspan x="248" dy="21.6">失去昔日的光辉。手镯的质地是相当坚硬的，</tspan><tspan x="248" dy="21.6">有一种玻璃的质感，比其他的玉更加的容易保</tspan><tspan x="248" dy="21.6">养。方法大概也就是下面这几种，如果各位遵</tspan><tspan x="248" dy="21.6">循方法去保养翡翠，手镯一定会光亮如新。</tspan></text>
<text class="t" x="248" y="3322">在人体经常佩戴的过程当中，会接触到很多物<tspan x="248" dy="21.6">质，比如油烟或者是肥皂等等。这个在所难免</tspan><tspan x="248" dy="21.6">，毕竟人都是需要劳作做家务工作的。如果各</tspan><tspan x="248" dy="21.6">位在煮饭的时候遇到了一些油污，我们可以用</tspan><tspan x="248" dy="21.6">碱水来轻轻的擦洗一下，然后再用清水清洗干</tspan><tspan x="248" dy="21.6">净。需要注意的是，千万不要用强酸物质的洗</tspan><tspan x="248" dy="21.6">洁剂来清洗，容易把表皮的浴层和内质结构给</tspan><tspan x="248" dy="21.6">破坏。</tspan></text>
<text class="t" x="248" y="3546">如果各位不经常佩戴，因为没有人体的柔润滋<tspan x="248" dy="21.6">养，质感慢慢的变得不好看了。之后人们就随</tspan><tspan x="248" dy="21.6">意的扔在桌子上面或者是抽屉当中，要知道空</tspan><tspan x="248" dy="21.6">气里面也是含有很多化学物质的，容易跟表面</tspan><tspan x="248" dy="21.6">产生一些化学反应，让翡翠手镯蒙上一层灰尘</tspan><tspan x="248" dy="21.6">。即便是不佩戴，也要隔上一个月在清水当中</tspan><tspan x="248" dy="21.6">浸泡一下，之后用软布擦洗干净，抹干水分，</tspan><tspan x="248" dy="21.6">用密封袋装起来。</tspan></text>
<text class="t" x="248" y="3769">翡翠如果长时间失去水分会造成裂痕，所以最<tspan x="248" dy="21.6">好放在阴凉通风处，保持翡翠饰品的湿度。翡</tspan><tspan x="248" dy="21.6">翠手镯虽然说是硬玉的一种，但是如果经过了</tspan><tspan x="248" dy="21.6">激烈的撞击以及磕磕碰碰也会造成致命的打击</tspan><tspan x="248" dy="21.6">。轻则刮花，重则断裂。所以应该把翡翠手镯</tspan><tspan x="248" dy="21.6">佩戴在使用频率不怎么高的手上面，如果各位</tspan><tspan x="248" dy="21.6">经常喜欢用右手，那就尽量的放在左手上面。</tspan></text>
<text class="t" x="248" y="3973">如果不小心刮花了或者是出现一些磕磕碰碰，<tspan x="248" dy="21.6">要及时的进行修复，否则长时间之后形成深深</tspan><tspan x="248" dy="21.6">的裂痕就会断掉。磕碰的圈口不怎么大，可以</tspan><tspan x="248" dy="21.6">重新进行反攻就OK了。当然如果直接摔在地</tspan><tspan x="248" dy="21.6">上断裂了，也可以用金镶玉的方式将翡翠手镯</tspan><tspan x="248" dy="21.6">修补起来</tspan></text>
</g>
</g>
</svg>
